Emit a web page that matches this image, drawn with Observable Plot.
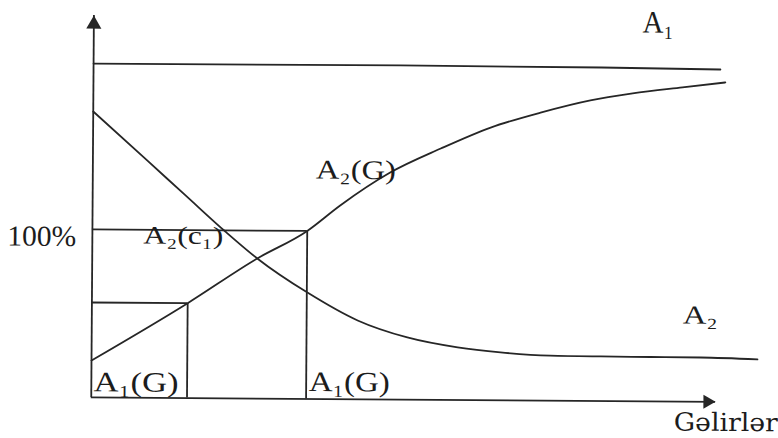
<!DOCTYPE html>
<html><head><meta charset="utf-8">
<script src="https://cdn.jsdelivr.net/npm/d3@7"></script>
<script src="https://cdn.jsdelivr.net/npm/@observablehq/plot@0.6"></script>
<style>
html,body{margin:0;padding:0;background:#fff;}
#chart{width:778px;height:438px;overflow:hidden;background:#fff;}
#chart svg{display:block;transform:rotate(0.4deg);transform-origin:389px 219px;}
</style></head><body><div id="chart"></div>
<script>
// x: income (Gəlirlər), arbitrary units; y: share, 100 = the 100% level
const a1X = [0, 48.7, 80.6, 99.5];
const a1Y = [198.7, 198.9, 198.5, 197.8];

const a2X = [0, 8.7, 14.7, 21.1, 26.2, 34.2, 42.2, 50.1, 58.1, 64.9, 72.8, 80.8, 88.7, 96.7, 105.7];
const a2Y = [170.2, 141.0, 120.8, 99.3, 83.4, 63.3, 46.9, 37.0, 31.3, 28.5, 26.8, 26.5, 26.4, 26.3, 25.4];

const a2gX = [0, 15.2, 26.2, 34.1, 39.3, 47.2, 55.2, 63.1, 71.0, 78.9, 85.6, 93.5, 100.3];
const a2gY = [22.0, 56.5, 83.4, 100.0, 115.3, 135.1, 149.6, 162.3, 171.4, 178.9, 183.2, 187.0, 190.1];

// A1(G) income levels and the matching shares
const levelX = [15.2, 34.1];
const levelY = [56.5, 100];

// axis extents
const axisEndX = 99.1;
const axisEndY = 227.3;

// labels
const labelText = ["A₁", "A₂(G)", "A₂(c₁)", "A₁(G)", "A₁(G)", "A₂", "100%"];
const labelX = [87.1, 35.4, 8.1, 0.35, 34.5, 93.8, -13.5];
const labelY = [219.5, 131.2, 91.8, 3.7, 4.7, 46.4, 90.1];
const axisTitle = "Gəlirlər";
const axisTitleX = 92.5;
const axisTitleY = -17.3;

// label styling (kept apart from the data)
const labelSize = [31, 27, 25, 28, 28, 26, 29];
const labelWidth = [31, 80, 80, 85, 81, 35, 69, 104];

const toPts = (xs, ys) => xs.map((x, i) => ({x, y: ys[i]}));
const a1 = toPts(a1X, a1Y);
const a2 = toPts(a2X, a2Y);
const a2g = toPts(a2gX, a2gY);
const levels = toPts(levelX, levelY);
const labels = labelText.map((t, i) => ({text: t, x: labelX[i], y: labelY[i], size: labelSize[i]}));

const ink = "#262626";
const sw = 1.8;

const chart = Plot.plot({
  width: 778,
  height: 438,
  margin: 0,
  x: {domain: [0, 100], range: [92, 722], axis: null},
  y: {domain: [0, 100], range: [399, 231], axis: null},
  style: {background: "#fff", overflow: "visible"},
  marks: [
    // axes
    Plot.ruleX([0], {y1: 0, y2: axisEndY, stroke: ink, strokeWidth: sw}),
    Plot.ruleY([0], {x1: 0, x2: axisEndX, stroke: ink, strokeWidth: sw}),
    Plot.dot([{x: 0, y: axisEndY}], {x: "x", y: "y", symbol: "triangle", r: 5.6, fill: ink, stroke: "none", dy: 8.7}),
    Plot.dot([{x: axisEndX, y: 0}], {x: "x", y: "y", symbol: "triangle", r: 5.2, fill: ink, stroke: "none", rotate: 90, dx: -8.1}),
    // rectangles for the A1(G) levels
    Plot.ruleY(levels, {y: "y", x1: 0, x2: "x", stroke: ink, strokeWidth: sw}),
    Plot.ruleX(levels, {x: "x", y1: 0, y2: "y", stroke: ink, strokeWidth: sw}),
    // curves
    Plot.line(a1, {x: "x", y: "y", curve: "monotone-x", stroke: ink, strokeWidth: sw}),
    Plot.line(a2, {x: "x", y: "y", curve: "monotone-x", stroke: ink, strokeWidth: sw}),
    Plot.line(a2g, {x: "x", y: "y", curve: "monotone-x", stroke: ink, strokeWidth: sw}),
    // labels
    Plot.text(labels, {x: "x", y: "y", text: "text", fontSize: "size", textAnchor: "start", lineAnchor: "bottom",
      fontFamily: "Liberation Serif", fill: "#1c1c1c"}),
    Plot.text([axisTitle], {x: axisTitleX, y: axisTitleY, text: d => d, fontSize: 25, textAnchor: "start", lineAnchor: "bottom",
      fontFamily: "DejaVu Serif", fill: "#1c1c1c"})
  ]
});

document.getElementById("chart").append(chart);

const texts = chart.querySelectorAll('g[aria-label="text"] text');
texts.forEach((t, i) => {
  if (labelWidth[i]) {
    t.setAttribute("textLength", labelWidth[i]);
    t.setAttribute("lengthAdjust", "spacingAndGlyphs");
  }
});
</script></body></html>
